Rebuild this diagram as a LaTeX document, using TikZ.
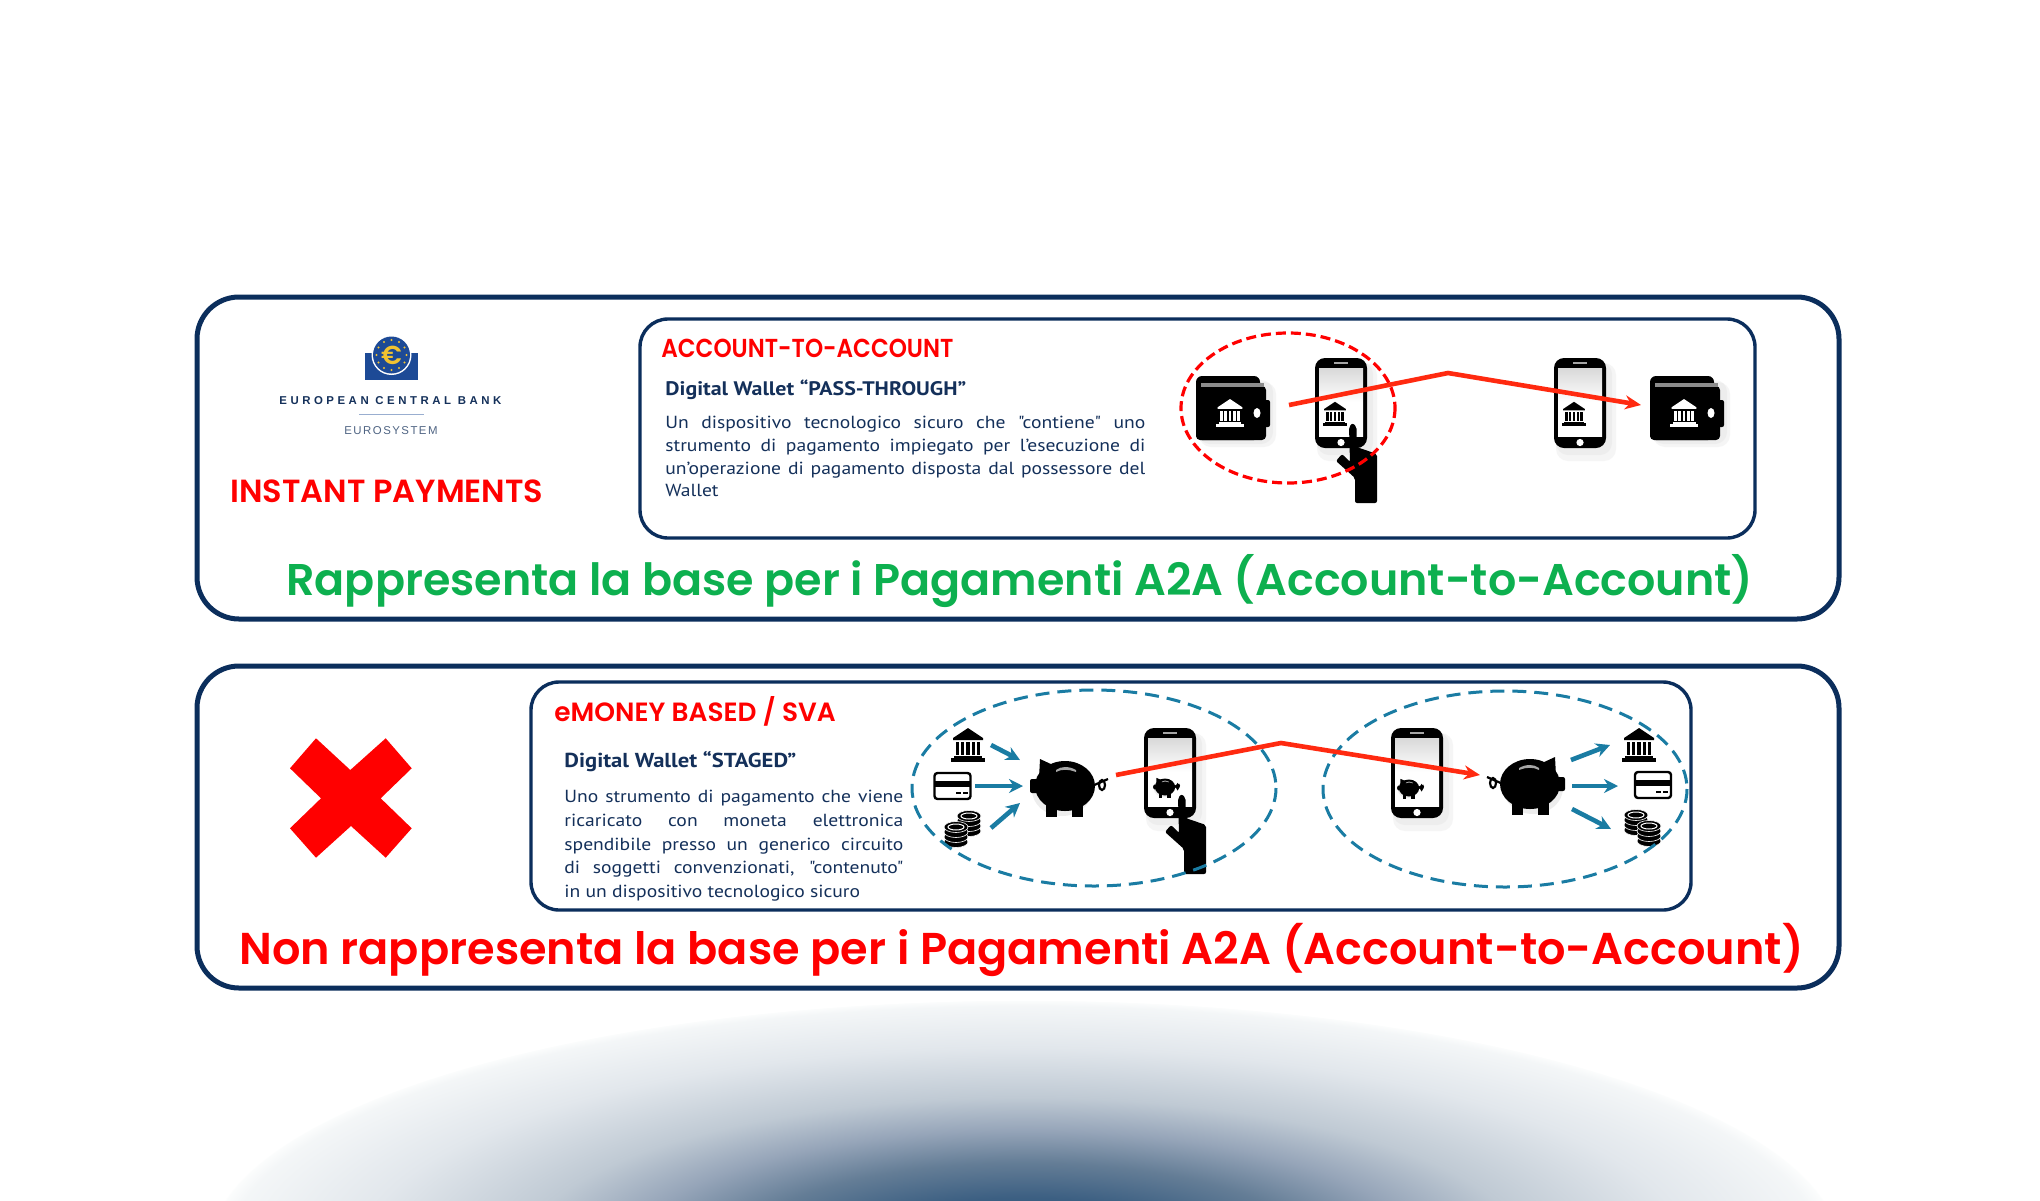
\documentclass[tikz,border=0pt]{standalone}
\usepackage{fontspec}
\usetikzlibrary{arrows.meta}
\newfontfamily\popf{Poppins SemiBold}
\newfontfamily\popnarrowf[FakeStretch=0.89]{Poppins SemiBold}
\newfontfamily\bodyf[FakeStretch=1.12]{PT Sans}
\newfontfamily\spacedf[LetterSpace=13]{Liberation Sans}
\newfontfamily\spacedboldf[LetterSpace=31]{Liberation Sans}
\definecolor{navy}{HTML}{0B2E5C}
\definecolor{inknavy}{HTML}{14305A}
\definecolor{ecbblue}{HTML}{1D4A96}
\definecolor{okgreen}{HTML}{0DB04F}
\definecolor{dashblue}{HTML}{1A7CA3}
\definecolor{arrowred}{HTML}{FF2A10}
\definecolor{eurogold}{HTML}{F2C230}
\pgfdeclareradialshading{dome}{\pgfpoint{0bp}{0bp}}{
 rgb(0bp)=(.137,.294,.451);
 rgb(5.25bp)=(.235,.373,.51);
 rgb(8.75bp)=(.392,.49,.588);
 rgb(12bp)=(.588,.647,.725);
 rgb(15.25bp)=(.75,.79,.83);
 rgb(20.25bp)=(.885,.905,.925);
 rgb(24.4bp)=(.955,.965,.97);
 rgb(24.95bp)=(.985,.99,.99);
 rgb(25bp)=(1,1,1);
 rgb(50bp)=(1,1,1)}
\tikzset{
 outerbox/.style={draw=navy,line width=2.5pt,rounded corners=21pt,fill=white,inner sep=0pt},
 innerbox/.style={draw=navy,line width=1.7pt,rounded corners=14pt,fill=white,inner sep=0pt},
 redhead/.style={text=red,font=\popf\fontsize{13.2}{15}\selectfont,inner sep=0pt,anchor=base west},
 bighead/.style={font=\popf\fontsize{22.25}{26}\selectfont,inner sep=0pt,anchor=base west},
 wallethead/.style={text=inknavy,font=\bodyf\bfseries\fontsize{10}{12}\selectfont,inner sep=0pt,anchor=base west},
 bodytext/.style={text=inknavy,inner sep=0pt,anchor=north west,align=left},
 flow/.style={draw=arrowred,line width=2.3pt,-{Stealth[length=8pt,width=7pt]}},
 feed/.style={draw=dashblue,line width=2.3pt,-{Stealth[length=7pt,width=7pt]}},
 zone/.style={draw=dashblue,line width=1.5pt,dash pattern=on 7pt off 4pt},
 softshadow/.style={fill=gray!45,opacity=.16,rounded corners=6pt},
 bank/.pic={
  \fill[#1] (0,-17) -- (15,-7) -- (15,-5) -- (-15,-5) -- (-15,-7) -- cycle;
  \foreach \cx in {-10.5,-5.25,0,5.25,10.5}{\fill[#1] (\cx-1.6,-3) rectangle (\cx+1.6,10);}
  \fill[#1] (-14,10.5) rectangle (14,13);
  \fill[#1] (-17,13) rectangle (17,17);
 },
 wallet/.pic={
  \fill[softshadow] (-34,-26) rectangle (43,39);
  \fill[softshadow] (-35,-28) rectangle (40,36);
  \fill[black,rounded corners=3pt] (-37,-32) rectangle (27,32);
  \fill[black,rounded corners=2pt] (-37,-22) rectangle (33,32);
  \fill[black,rounded corners=1pt] (30,-8) rectangle (37,19);
  \fill[black!45] (-32,-25) rectangle (31,-21);
  \fill[white] (24,5) ellipse [x radius=3.5,y radius=5];
  \pic at (-3,5) [scale=.82] {bank=white};
 },
 phone/.pic={
  \fill[softshadow] (-24,-40) rectangle (36,58);
  \fill[softshadow] (-24,-41) rectangle (32,52);
  \fill[black,rounded corners=5pt] (-26,-45) rectangle (26,45);
  \shade[top color=gray!30,bottom color=white,middle color=white] (-22,-35) rectangle (22,33);
  \fill[gray!70] (-7,-41) rectangle (7,-39.5);
  \fill[white] (0,39.5) circle [radius=3.6];
 },
 pointer/.pic={
  \fill[black,rounded corners=1pt] (-3,4) -- (0.5,0) -- (4.6,4) -- (4.6,24) -- (25,31) -- (25,80) -- (3,80) -- (3,55) -- (-16,38) -- (-10,31) -- (-2,39) -- cycle;
 },
 pig/.pic={
  \fill[gray!45,opacity=.3] (3,4) ellipse [x radius=30,y radius=26];
  \fill[black] (0,0) ellipse [x radius=30,y radius=25];
  \fill[black,rounded corners=1pt] (26,-7) rectangle (35,7);
  \fill[black] (12,-21) -- (25,-27) -- (26,-8) -- cycle;
  \fill[black] (-18,14) rectangle (-7,31);
  \fill[black] (8,14) rectangle (19,31);
  \fill[gray!70] (-11,-16) .. controls (-4,-20) and (4,-20) .. (9,-16) -- (9,-14) .. controls (4,-17) and (-4,-17) .. (-11,-14) -- cycle;
  \draw[black,line width=1.1pt] (-27,0) -- (-43,-7);
  \draw[black,line width=1.1pt] (-37,-1) ellipse [x radius=3,y radius=5];
 },
 card/.pic={
  \draw[black,line width=1.2pt,fill=white,rounded corners=1.5pt] (-18,-13) rectangle (18,13);
  \fill[black] (-18,-5) rectangle (18,1);
  \fill[black] (3,6) rectangle (8,8);
  \fill[black] (10,6) rectangle (15,8);
 },
 coinstack/.pic={
  \foreach \cy in {8,3,-2,-7}{
   \draw[white,line width=.3pt,fill=black] (0,\cy) ellipse [x radius=12,y radius=5.5];}
  \draw[white,line width=.5pt] (0,-7) ellipse [x radius=8,y radius=3];
 },
 coins/.pic={
  \pic at (6,-5) {coinstack};
  \pic at (-7,6) {coinstack};
 },
}
\begin{document}
\begin{tikzpicture}[x=.5pt,y=-.5pt]
\useasboundingbox (0,0) rectangle (2040,1200);
\fill[white] (0,0) rectangle (2040,1200);
\begin{scope}
 \clip (0,0) rectangle (2040,1200);
 \shade[shading=dome] (1024,1250) ellipse [x radius=816,y radius=250];
\end{scope}

% boxes
\node[outerbox,minimum width=821pt,minimum height=161pt] (panelA) at (1018,458) {};
\node[outerbox,minimum width=821pt,minimum height=161pt] (panelB) at (1018,827) {};
\node[innerbox,minimum width=557.5pt,minimum height=109.5pt] (cardA) at (1197.5,428.5) {};
\node[innerbox,minimum width=580pt,minimum height=114pt] (cardB) at (1111,796) {};

% ECB logo
\fill[ecbblue] (365,353) rectangle (418,380);
\fill[white] (391.5,355) circle [radius=20];
\fill[ecbblue] (391.5,355) circle [radius=18.5];
\foreach \ang in {0,30,...,330}{\fill[eurogold] (391.5,355) ++(\ang:15) circle [radius=1.1];}
\node[inner sep=0pt,text=eurogold,font=\popf\fontsize{13}{13}\selectfont] (euro) at (391.5,355) {€};
\node[inner sep=0pt,anchor=base west,text=inknavy,font=\spacedboldf\bfseries\fontsize{5.7}{7}\selectfont] (ecbname) at (279,404) {EUROPEAN CENTRAL BANK};
\fill[ecbblue!45!white] (359,413.5) rectangle (424,415);
\node[inner sep=0pt,anchor=base west,text=inknavy!75,font=\spacedf\fontsize{5.7}{7}\selectfont] (eurosys) at (344,434) {EUROSYSTEM};

\node[redhead,font=\popf\fontsize{16}{18}\selectfont] (instant) at (230,502) {INSTANT PAYMENTS};
\node[redhead,font=\popnarrowf\fontsize{13}{15}\selectfont] (a2ahead) at (661,357) {ACCOUNT-TO-ACCOUNT};
\node[wallethead,font=\bodyf\bfseries\fontsize{9.8}{12}\selectfont] (passhead) at (665,395) {Digital Wallet “PASS-THROUGH”};
\node[bodytext,font=\bodyf\fontsize{8.75}{11.3}\selectfont] (passbody) at (665,416) {%
\makebox[240pt][s]{Un dispositivo tecnologico sicuro che "contiene" uno}\\
\makebox[240pt][s]{strumento di pagamento impiegato per l’esecuzione di}\\
\makebox[240pt][s]{un’operazione di pagamento disposta dal possessore del}\\
Wallet};
\node[bighead,text=okgreen,font=\popf\fontsize{22.2}{26}\selectfont] (yes) at (286,595) {Rappresenta la base per i Pagamenti A2A (Account-to-Account)};

\node[redhead] (emoneyhead) at (554,721) {eMONEY BASED / SVA};
\node[wallethead,font=\bodyf\bfseries\fontsize{10.1}{12}\selectfont] (stagedhead) at (564,767) {Digital Wallet “STAGED”};
\node[bodytext,font=\bodyf\fontsize{8.75}{11.85}\selectfont] (stagedbody) at (564,790) {%
\makebox[169.5pt][s]{Uno strumento di pagamento che viene}\\
\makebox[169.5pt][s]{ricaricato con moneta elettronica}\\
\makebox[169.5pt][s]{spendibile presso un generico circuito}\\
\makebox[169.5pt][s]{di soggetti convenzionati, "contenuto"}\\
in un dispositivo tecnologico sicuro};
\node[bighead,text=red,font=\popf\fontsize{22.3}{26}\selectfont] (no) at (239,964) {Non rappresenta la base per i Pagamenti A2A (Account-to-Account)};

% red cross
\fill[red] (290,768.3) -- (316,738.3) -- (350.3,770) -- (385.7,738.3) -- (411.7,768.3) -- (380.7,798.3) -- (411.7,828.3) -- (385.7,857.7) -- (351,826) -- (316,857.7) -- (290,828.3) -- (321,798.3) -- cycle;

% account-to-account icons
\pic at (1233,408) {wallet};
\pic at (1341,403) {phone};
\pic at (1335,414) [scale=.72] {bank=black};
\pic at (1580,403) {phone};
\pic at (1574,414) [scale=.72] {bank=black};
\pic at (1687,408) {wallet};
\pic at (1352,423) {pointer};
\draw[red,line width=1.6pt,dash pattern=on 5pt off 2.5pt] (1288,408) ellipse [x radius=107,y radius=75];
\coordinate (a2astart) at (1289,405);
\coordinate (a2apeak) at (1448,373);
\coordinate (a2aend) at (1641,405);
\draw[flow] (a2astart) -- (a2apeak) -- (a2aend);

% e-money icons, left
\pic at (968,745) {bank=black};
\pic at (952.5,786) {card};
\pic at (963,828) {coins};
\pic[xscale=-1] at (1065,786) {pig};
\pic at (1170,773) {phone};
\pic[xscale=-.34,yscale=.34] at (1165,787) {pig};
\pic at (1181,794) {pointer};
\draw[zone] (1094,788) ellipse [x radius=182,y radius=98];

% e-money icons, right
\pic at (1417,773) {phone};
\pic[xscale=-.34,yscale=.34] at (1409,788) {pig};
\pic at (1530,784) {pig};
\pic at (1639,745) {bank=black};
\pic at (1653,785) {card};
\pic[xscale=-1] at (1642,827) {coins};
\draw[zone] (1505,789) ellipse [x radius=182,y radius=98];

\coordinate (bankL) at (991,745);
\coordinate (cardL) at (975,786);
\coordinate (coinL) at (991,828);
\coordinate (pigLa) at (1020,760);
\coordinate (pigLb) at (1023,786);
\coordinate (pigLc) at (1020,803);
\draw[feed] (bankL) -- (pigLa);
\draw[feed] (cardL) -- (pigLb);
\draw[feed] (coinL) -- (pigLc);
\coordinate (pigRa) at (1571,760);
\coordinate (pigRb) at (1572,786);
\coordinate (pigRc) at (1572,809);
\coordinate (bankR) at (1610,745);
\coordinate (cardR) at (1618,786);
\coordinate (coinR) at (1611,829);
\draw[feed] (pigRa) -- (bankR);
\draw[feed] (pigRb) -- (cardR);
\draw[feed] (pigRc) -- (coinR);

\coordinate (svastart) at (1116,775);
\coordinate (svapeak) at (1281,743);
\coordinate (svaend) at (1480,775);
\draw[flow] (svastart) -- (svapeak) -- (svaend);
\end{tikzpicture}
\end{document}
